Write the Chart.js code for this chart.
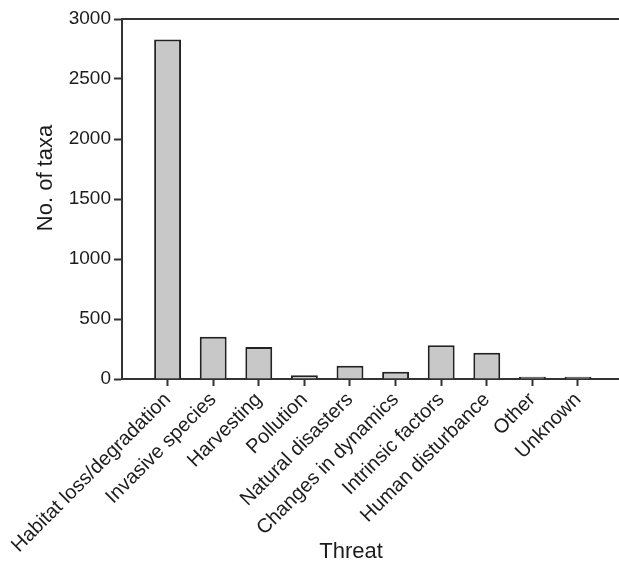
<!DOCTYPE html>
<html>
<head>
<meta charset="utf-8">
<script src="https://cdn.jsdelivr.net/npm/chart.js@4/dist/chart.umd.min.js"></script>
<style>
  html, body { margin: 0; padding: 0; background: #fff; overflow: hidden; }
  #wrap { position: absolute; left: 0; top: 0; width: 640px; height: 564px; }
</style>
</head>
<body>
<div id="wrap"><canvas id="threat-chart"></canvas></div>
<script>
var threats = ['Habitat loss/degradation', 'Invasive species', 'Harvesting', 'Pollution',
    'Natural disasters', 'Changes in dynamics', 'Intrinsic factors', 'Human disturbance',
    'Other', 'Unknown'];
var taxaCounts = [2830, 352, 267, 31, 111, 61, 281, 219, 18, 18];
var yTickValues = [0, 500, 1000, 1500, 2000, 2500, 3000];

var FONT = '"Liberation Sans", Arial, Helvetica, sans-serif';
var INK = '#1c1c1c';
var AXIS = '#333333';

// axis titles sit off-centre in the original figure, so place them by hand
var axisTitles = {
    id: 'axisTitles',
    afterDraw: function (chart) {
        var ctx = chart.ctx;
        ctx.save();
        ctx.fillStyle = INK;
        ctx.font = '22px ' + FONT;
        ctx.textAlign = 'center';
        ctx.textBaseline = 'alphabetic';
        ctx.fillText('Threat', 351, 558);
        ctx.translate(52, 178);
        ctx.rotate(-Math.PI / 2);
        ctx.fillText('No. of taxa', 0, 0);
        ctx.restore();
    }
};

var ctx = document.getElementById('threat-chart').getContext('2d');
var chart = new Chart(ctx, {
    type: 'bar',
    data: {
        datasets: [{
            data: taxaCounts.map(function (v, i) { return { x: i, y: v }; }),
            backgroundColor: '#c8c8c8',
            borderColor: '#222222',
            borderWidth: 2,
            categoryPercentage: 1,
            barPercentage: 0.59
        }]
    },
    options: {
        responsive: true,
        maintainAspectRatio: false,
        animation: false,
        layout: { padding: { left: 0, top: 19, right: 0, bottom: 0 } },
        plugins: {
            legend: { display: false },
            tooltip: { enabled: false }
        },
        scales: {
            x: {
                type: 'linear',
                position: 'bottom',
                min: -1,
                max: 10.36,
                offset: false,
                afterBuildTicks: function (scale) {
                    scale.ticks = threats.map(function (t, i) { return { value: i }; });
                },
                afterFit: function (scale) { scale.height = 185; },
                grid: {
                    display: true,
                    offset: false,
                    drawOnChartArea: false,
                    drawTicks: true,
                    tickLength: 7,
                    tickWidth: 2,
                    tickColor: AXIS
                },
                border: { display: true, color: AXIS, width: 2 },
                ticks: {
                    autoSkip: false,
                    minRotation: 45,
                    maxRotation: 45,
                    padding: 2,
                    color: INK,
                    font: { family: FONT, size: 20 },
                    callback: function (value) { return threats[value]; }
                }
            },
            xTop: {
                type: 'linear',
                position: 'top',
                min: -1,
                max: 10.36,
                afterFit: function (scale) { scale.height = 0; },
                grid: { display: false },
                ticks: { display: false },
                border: { display: true, color: AXIS, width: 2 }
            },
            y: {
                min: 0,
                max: 3000,
                afterBuildTicks: function (scale) {
                    scale.ticks = yTickValues.map(function (v) { return { value: v }; });
                },
                afterFit: function (scale) { scale.width = 122; },
                grid: {
                    display: true,
                    drawOnChartArea: false,
                    drawTicks: true,
                    tickLength: 8,
                    tickWidth: 2,
                    tickColor: AXIS
                },
                border: { display: true, color: AXIS, width: 2 },
                ticks: {
                    padding: 3,
                    color: INK,
                    font: { family: FONT, size: 19 },
                    callback: function (value) { return String(value); }
                }
            }
        }
    },
    plugins: [axisTitles]
});
</script>
</body>
</html>
